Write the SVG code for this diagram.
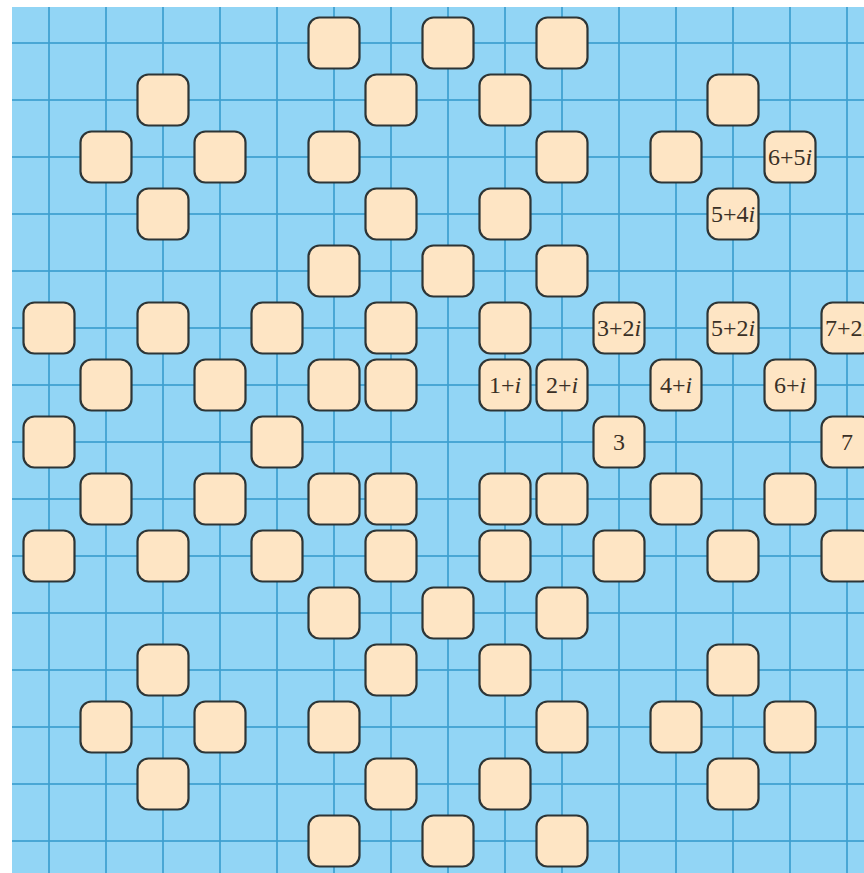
<svg xmlns="http://www.w3.org/2000/svg" width="864" height="873" viewBox="0 0 864 873">
<style>
.bg{fill:#92d5f5}
.grid line{stroke:#3c9fcf;stroke-width:2;stroke-opacity:0.85}
.t text{font-family:"Liberation Serif","DejaVu Serif",serif;font-size:24px;fill:#3a3026;text-anchor:middle}
.t tspan{font-style:italic}
</style>
<defs>
<rect id="tile" x="-25.5" y="-25.5" width="51" height="51" rx="11" ry="11" fill="#fee5c4" stroke="#2d3536" stroke-width="2.2"/>
</defs>
<rect x="0" y="0" width="864" height="873" fill="#ffffff"/>
<rect class="bg" x="12" y="7" width="852" height="866"/>
<g class="grid">
<line x1="49" y1="7" x2="49" y2="873"/><line x1="106" y1="7" x2="106" y2="873"/><line x1="163" y1="7" x2="163" y2="873"/><line x1="220" y1="7" x2="220" y2="873"/><line x1="277" y1="7" x2="277" y2="873"/><line x1="334" y1="7" x2="334" y2="873"/><line x1="391" y1="7" x2="391" y2="873"/><line x1="448" y1="7" x2="448" y2="873"/><line x1="505" y1="7" x2="505" y2="873"/><line x1="562" y1="7" x2="562" y2="873"/><line x1="619" y1="7" x2="619" y2="873"/><line x1="676" y1="7" x2="676" y2="873"/><line x1="733" y1="7" x2="733" y2="873"/><line x1="790" y1="7" x2="790" y2="873"/><line x1="847" y1="7" x2="847" y2="873"/>
<line x1="12" y1="43" x2="864" y2="43"/><line x1="12" y1="100" x2="864" y2="100"/><line x1="12" y1="157" x2="864" y2="157"/><line x1="12" y1="214" x2="864" y2="214"/><line x1="12" y1="271" x2="864" y2="271"/><line x1="12" y1="328" x2="864" y2="328"/><line x1="12" y1="385" x2="864" y2="385"/><line x1="12" y1="442" x2="864" y2="442"/><line x1="12" y1="499" x2="864" y2="499"/><line x1="12" y1="556" x2="864" y2="556"/><line x1="12" y1="613" x2="864" y2="613"/><line x1="12" y1="670" x2="864" y2="670"/><line x1="12" y1="727" x2="864" y2="727"/><line x1="12" y1="784" x2="864" y2="784"/><line x1="12" y1="841" x2="864" y2="841"/>
</g>
<g id="connectors"></g>
<g id="nodes">
<g id="p1_1" class="t" transform="translate(505,385)"><use href="#tile"/><text y="8">1+<tspan>i</tspan></text></g>
<g id="pm1_1" class="t" transform="translate(391,385)"><use href="#tile"/></g>
<g id="p1_m1" class="t" transform="translate(505,499)"><use href="#tile"/></g>
<g id="pm1_m1" class="t" transform="translate(391,499)"><use href="#tile"/></g>
<g id="p1_2" class="t" transform="translate(505,328)"><use href="#tile"/></g>
<g id="pm1_2" class="t" transform="translate(391,328)"><use href="#tile"/></g>
<g id="p1_m2" class="t" transform="translate(505,556)"><use href="#tile"/></g>
<g id="pm1_m2" class="t" transform="translate(391,556)"><use href="#tile"/></g>
<g id="p2_1" class="t" transform="translate(562,385)"><use href="#tile"/><text y="8">2+<tspan>i</tspan></text></g>
<g id="pm2_1" class="t" transform="translate(334,385)"><use href="#tile"/></g>
<g id="p2_m1" class="t" transform="translate(562,499)"><use href="#tile"/></g>
<g id="pm2_m1" class="t" transform="translate(334,499)"><use href="#tile"/></g>
<g id="p1_4" class="t" transform="translate(505,214)"><use href="#tile"/></g>
<g id="pm1_4" class="t" transform="translate(391,214)"><use href="#tile"/></g>
<g id="p1_m4" class="t" transform="translate(505,670)"><use href="#tile"/></g>
<g id="pm1_m4" class="t" transform="translate(391,670)"><use href="#tile"/></g>
<g id="p4_1" class="t" transform="translate(676,385)"><use href="#tile"/><text y="8">4+<tspan>i</tspan></text></g>
<g id="pm4_1" class="t" transform="translate(220,385)"><use href="#tile"/></g>
<g id="p4_m1" class="t" transform="translate(676,499)"><use href="#tile"/></g>
<g id="pm4_m1" class="t" transform="translate(220,499)"><use href="#tile"/></g>
<g id="p1_6" class="t" transform="translate(505,100)"><use href="#tile"/></g>
<g id="pm1_6" class="t" transform="translate(391,100)"><use href="#tile"/></g>
<g id="p1_m6" class="t" transform="translate(505,784)"><use href="#tile"/></g>
<g id="pm1_m6" class="t" transform="translate(391,784)"><use href="#tile"/></g>
<g id="p6_1" class="t" transform="translate(790,385)"><use href="#tile"/><text y="8">6+<tspan>i</tspan></text></g>
<g id="pm6_1" class="t" transform="translate(106,385)"><use href="#tile"/></g>
<g id="p6_m1" class="t" transform="translate(790,499)"><use href="#tile"/></g>
<g id="pm6_m1" class="t" transform="translate(106,499)"><use href="#tile"/></g>
<g id="p2_3" class="t" transform="translate(562,271)"><use href="#tile"/></g>
<g id="pm2_3" class="t" transform="translate(334,271)"><use href="#tile"/></g>
<g id="p2_m3" class="t" transform="translate(562,613)"><use href="#tile"/></g>
<g id="pm2_m3" class="t" transform="translate(334,613)"><use href="#tile"/></g>
<g id="p3_2" class="t" transform="translate(619,328)"><use href="#tile"/><text y="8">3+2<tspan>i</tspan></text></g>
<g id="pm3_2" class="t" transform="translate(277,328)"><use href="#tile"/></g>
<g id="p3_m2" class="t" transform="translate(619,556)"><use href="#tile"/></g>
<g id="pm3_m2" class="t" transform="translate(277,556)"><use href="#tile"/></g>
<g id="p2_5" class="t" transform="translate(562,157)"><use href="#tile"/></g>
<g id="pm2_5" class="t" transform="translate(334,157)"><use href="#tile"/></g>
<g id="p2_m5" class="t" transform="translate(562,727)"><use href="#tile"/></g>
<g id="pm2_m5" class="t" transform="translate(334,727)"><use href="#tile"/></g>
<g id="p5_2" class="t" transform="translate(733,328)"><use href="#tile"/><text y="8">5+2<tspan>i</tspan></text></g>
<g id="pm5_2" class="t" transform="translate(163,328)"><use href="#tile"/></g>
<g id="p5_m2" class="t" transform="translate(733,556)"><use href="#tile"/></g>
<g id="pm5_m2" class="t" transform="translate(163,556)"><use href="#tile"/></g>
<g id="p2_7" class="t" transform="translate(562,43)"><use href="#tile"/></g>
<g id="pm2_7" class="t" transform="translate(334,43)"><use href="#tile"/></g>
<g id="p2_m7" class="t" transform="translate(562,841)"><use href="#tile"/></g>
<g id="pm2_m7" class="t" transform="translate(334,841)"><use href="#tile"/></g>
<g id="p7_2" class="t" transform="translate(847,328)"><use href="#tile"/><text y="8">7+2<tspan>i</tspan></text></g>
<g id="pm7_2" class="t" transform="translate(49,328)"><use href="#tile"/></g>
<g id="p7_m2" class="t" transform="translate(847,556)"><use href="#tile"/></g>
<g id="pm7_m2" class="t" transform="translate(49,556)"><use href="#tile"/></g>
<g id="p4_5" class="t" transform="translate(676,157)"><use href="#tile"/></g>
<g id="pm4_5" class="t" transform="translate(220,157)"><use href="#tile"/></g>
<g id="p4_m5" class="t" transform="translate(676,727)"><use href="#tile"/></g>
<g id="pm4_m5" class="t" transform="translate(220,727)"><use href="#tile"/></g>
<g id="p5_4" class="t" transform="translate(733,214)"><use href="#tile"/><text y="8">5+4<tspan>i</tspan></text></g>
<g id="pm5_4" class="t" transform="translate(163,214)"><use href="#tile"/></g>
<g id="p5_m4" class="t" transform="translate(733,670)"><use href="#tile"/></g>
<g id="pm5_m4" class="t" transform="translate(163,670)"><use href="#tile"/></g>
<g id="p5_6" class="t" transform="translate(733,100)"><use href="#tile"/></g>
<g id="pm5_6" class="t" transform="translate(163,100)"><use href="#tile"/></g>
<g id="p5_m6" class="t" transform="translate(733,784)"><use href="#tile"/></g>
<g id="pm5_m6" class="t" transform="translate(163,784)"><use href="#tile"/></g>
<g id="p6_5" class="t" transform="translate(790,157)"><use href="#tile"/><text y="8">6+5<tspan>i</tspan></text></g>
<g id="pm6_5" class="t" transform="translate(106,157)"><use href="#tile"/></g>
<g id="p6_m5" class="t" transform="translate(790,727)"><use href="#tile"/></g>
<g id="pm6_m5" class="t" transform="translate(106,727)"><use href="#tile"/></g>
<g id="p3_0" class="t" transform="translate(619,442)"><use href="#tile"/><text y="8">3</text></g>
<g id="pm3_0" class="t" transform="translate(277,442)"><use href="#tile"/></g>
<g id="p7_0" class="t" transform="translate(847,442)"><use href="#tile"/><text y="8">7</text></g>
<g id="pm7_0" class="t" transform="translate(49,442)"><use href="#tile"/></g>
<g id="p0_3" class="t" transform="translate(448,271)"><use href="#tile"/></g>
<g id="p0_m3" class="t" transform="translate(448,613)"><use href="#tile"/></g>
<g id="p0_7" class="t" transform="translate(448,43)"><use href="#tile"/></g>
<g id="p0_m7" class="t" transform="translate(448,841)"><use href="#tile"/></g>
</g>
</svg>
